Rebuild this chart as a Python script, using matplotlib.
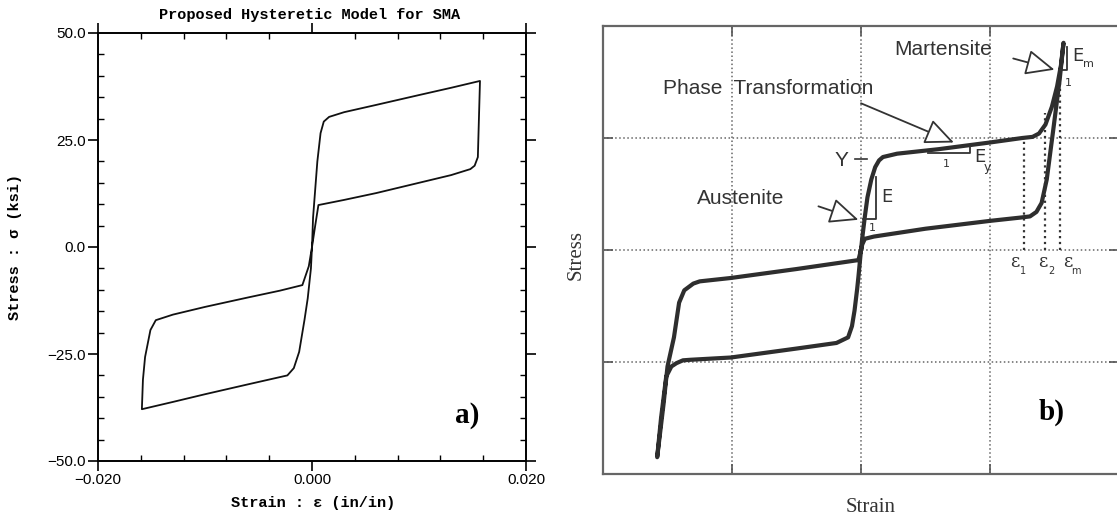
import matplotlib
matplotlib.use('Agg')
from matplotlib import pyplot as plt
from matplotlib.ticker import MultipleLocator, FuncFormatter

# ---- panel a) : proposed hysteretic model (strain in/in, stress ksi)
a_strain = [0.0, 0.0001, 0.0005, 0.0008, 0.0011, 0.0016, 0.003, 0.006, 0.010, 0.013, 0.0157,
            0.0156, 0.0155, 0.0152, 0.0148, 0.013, 0.010, 0.006, 0.003, 0.0006, 0.0003, 0.0,
            -0.0001, -0.0004, -0.0007, -0.0012, -0.0017, -0.0023, -0.006, -0.010, -0.013, -0.0159,
            -0.0158, -0.0156, -0.0151, -0.0146, -0.013, -0.010, -0.006, -0.003, -0.0009, -0.0003, 0.0]
a_stress = [0.0, 6.9, 20.0, 26.6, 29.3, 30.4, 31.5, 33.2, 35.5, 37.2, 38.8,
            30.0, 21.0, 19.0, 18.2, 16.8, 15.0, 12.6, 11.0, 9.8, 5.0, 0.0,
            -5.0, -12.0, -17.0, -24.5, -28.3, -30.0, -32.1, -34.4, -36.2, -37.9,
            -31.0, -25.7, -19.4, -17.1, -15.8, -14.0, -11.8, -10.2, -8.9, -4.5, 0.0]
a_xticks = [-0.020, 0.000, 0.020]
a_yticks = [-50.0, -25.0, 0.0, 25.0, 50.0]

# ---- panel b) : schematic stress-strain (arbitrary units, grid = 1)
b_strain = [0.0, 0.01, 0.03, 0.05, 0.08, 0.11, 0.14, 0.17, 0.28, 0.6, 1.0, 1.25, 1.33, 1.38,
            1.43, 1.48, 1.52, 1.55, 1.57,
            1.54, 1.49, 1.44, 1.40, 1.36, 1.31, 1.24, 1.0, 0.5, 0.1, 0.03, 0.01, 0.0,
            -0.02, -0.5, -1.01, -1.25, -1.30, -1.37, -1.41, -1.45, -1.50, -1.53, -1.58,
            -1.55, -1.51, -1.47, -1.43, -1.38, -1.32, -1.01, -0.5, -0.19, -0.10, -0.07,
            -0.05, -0.03, -0.02, 0.0]
b_stress = [0.0, 0.11, 0.30, 0.47, 0.63, 0.74, 0.80, 0.83, 0.86, 0.90, 0.96, 1.0, 1.01, 1.04,
            1.12, 1.28, 1.46, 1.65, 1.85,
            1.52, 1.07, 0.63, 0.42, 0.34, 0.30, 0.29, 0.26, 0.19, 0.12, 0.10, 0.05, 0.0,
            -0.09, -0.17, -0.25, -0.28, -0.30, -0.36, -0.47, -0.78, -1.04, -1.37, -1.85,
            -1.50, -1.13, -1.04, -1.01, -0.985, -0.98, -0.96, -0.88, -0.83, -0.78, -0.68,
            -0.54, -0.35, -0.24, 0.0]
b_grid = [-1, 0, 1]
b_eps = [1.26, 1.43, 1.54]          # epsilon_1, epsilon_2, epsilon_m
b_eps_top = [0.98, 1.22, 1.55]
b_eps_label_x = [1.19, 1.41, 1.60]
b_eps_subs = ['1', '2', 'm']

W, H = 1117, 525
fig = plt.figure(figsize=(W / 100, H / 100), dpi=100)

# ================= a)
ax1 = fig.add_axes([98 / W, 64 / H, 428 / W, 428 / H])
ax1.plot(a_strain, a_stress, color='#111111', lw=1.3)
ax1.set_xlim(-0.02, 0.02)
ax1.set_ylim(-50, 50)
ax1.set_xticks(a_xticks)
ax1.set_yticks(a_yticks)
ax1.xaxis.set_minor_locator(MultipleLocator(0.004))
ax1.yaxis.set_minor_locator(MultipleLocator(5))
ax1.xaxis.set_major_formatter(FuncFormatter(lambda v, p: f'{v:.3f}'.replace('-', '\u2212')))
ax1.yaxis.set_major_formatter(FuncFormatter(lambda v, p: f'{v:.1f}'.replace('-', '\u2212')))
ax1.tick_params(which='major', direction='out', length=7, width=1.2,
                top=True, right=True, labelsize=11, pad=2)
ax1.tick_params(which='minor', direction='in', length=4, width=1.0, top=True, right=True)
for lab in ax1.get_xticklabels() + ax1.get_yticklabels():
    lab.set_family(['Liberation Sans', 'DejaVu Sans'])
for s in ax1.spines.values():
    s.set_linewidth(1.4)
ax1.text(0.862, 0.107, 'a)', transform=ax1.transAxes, ha='center', va='center',
         fontsize=21, fontweight='bold', family='Liberation Serif')

mono = ['Liberation Mono', 'DejaVu Sans Mono']
fig.text(310 / W, 1 - 15 / H, 'Proposed Hysteretic Model for SMA', ha='center', va='center',
         fontsize=11, fontweight='bold', family=mono)
fig.text(313 / W, 1 - 503 / H, 'Strain : \u03b5 (in/in)', ha='center', va='center',
         fontsize=11, fontweight='bold', family=mono)
fig.text(15 / W, 1 - 247 / H, 'Stress : \u03c3 (ksi)', ha='center', va='center',
         rotation=90, fontsize=11, fontweight='bold', family=mono)

# ================= b)
ax2 = fig.add_axes([603 / W, 51 / H, 516 / W, 448 / H])
ax2.set_xlim(-2, 2)
ax2.set_ylim(-2, 2)
ax2.set_xticks(b_grid)
ax2.set_yticks(b_grid)
ax2.tick_params(direction='in', length=7, width=1.2, color='#555555', top=True, right=True,
                labelbottom=False, labelleft=False)
ax2.grid(True, ls=':', color='#666666', lw=1.1)
for s in ax2.spines.values():
    s.set_color('#666666')
    s.set_linewidth(1.6)
ax2.spines['right'].set_visible(False)

ink = '#333333'
for x, yt in zip(b_eps, b_eps_top):
    ax2.plot([x, x], [0, yt], ls=':', color=ink, lw=1.6)
for x, sub in zip(b_eps_label_x, b_eps_subs):
    ax2.text(x, -0.11, '\u03b5', ha='center', va='center', fontsize=13, color=ink,
             family=['DejaVu Serif'])
    ax2.text(x + 0.065, -0.19, sub, ha='center', va='center', fontsize=7, color=ink)

ax2.plot(b_strain, b_stress, color='#2e2e2e', lw=3.0, solid_joinstyle='round')

txt = dict(fontsize=15, color=ink, family=['Liberation Sans', 'DejaVu Sans'])
arw = dict(arrowstyle='-|>,head_length=0.9,head_width=0.4', fc='white', ec=ink,
           lw=1.3, shrinkA=0, shrinkB=0, mutation_scale=20)
ax2.text(0.64, 1.79, 'Martensite', ha='center', va='center', **txt)
ax2.annotate('', xy=(1.50, 1.61), xytext=(1.18, 1.71), arrowprops=arw)
ax2.text(-0.72, 1.44, 'Phase  Transformation', ha='center', va='center', **txt)
ax2.annotate('', xy=(0.72, 0.96), xytext=(0.0, 1.31), arrowprops=arw)
ax2.text(-0.93, 0.46, 'Austenite', ha='center', va='center', **txt)
ax2.annotate('', xy=(-0.02, 0.27), xytext=(-0.33, 0.39), arrowprops=arw)
ax2.text(-0.15, 0.80, 'Y', ha='center', va='center', **txt)
ax2.plot([-0.05, 0.05], [0.81, 0.81], color=ink, lw=1.2)

# slope triangles
ax2.plot([0.016, 0.116, 0.116], [0.28, 0.28, 0.65], color=ink, lw=1.3)
ax2.text(0.20, 0.47, 'E', ha='center', va='center', fontsize=13, color=ink)
ax2.text(0.09, 0.20, '1', ha='center', va='center', fontsize=8, color=ink)
ax2.plot([0.52, 0.845, 0.845], [0.87, 0.87, 0.92], color=ink, lw=1.3)
ax2.text(0.92, 0.83, 'E', ha='center', va='center', fontsize=13, color=ink)
ax2.text(0.98, 0.74, 'y', ha='center', va='center', fontsize=9, color=ink)
ax2.text(0.66, 0.77, '1', ha='center', va='center', fontsize=8, color=ink)
ax2.plot([1.54, 1.60, 1.60], [1.61, 1.61, 1.81], color=ink, lw=1.3)
ax2.text(1.68, 1.73, 'E', ha='center', va='center', fontsize=13, color=ink)
ax2.text(1.76, 1.66, 'm', ha='center', va='center', fontsize=8, color=ink)
ax2.text(1.61, 1.49, '1', ha='center', va='center', fontsize=8, color=ink)

serif = ['Liberation Serif', 'DejaVu Serif']
fig.text(871 / W, 1 - 508 / H, 'Strain', ha='center', va='center', fontsize=15,
         family=serif, color=ink)
fig.text(576 / W, 1 - 255 / H, 'Stress', ha='center', va='center', rotation=90,
         fontsize=15, family=serif, color=ink)
ax2.text(0.870, 0.138, 'b)', transform=ax2.transAxes, ha='center', va='center',
         fontsize=21, fontweight='bold', family='Liberation Serif')

fig.savefig('out.png', dpi=100)
